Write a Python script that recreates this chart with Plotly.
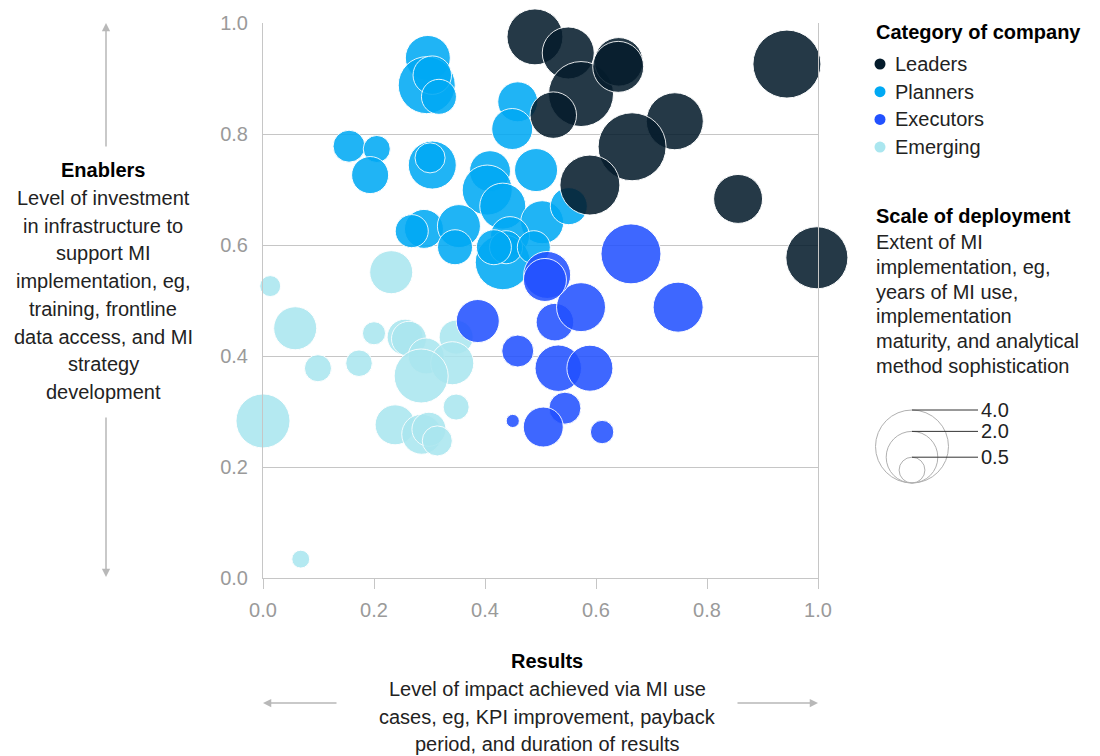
import plotly.graph_objects as go

# ---- data: (results, enablers, scale of deployment) per company ----
leaders_x = [0.490, 0.550, 0.573, 0.641, 0.640, 0.523, 0.742, 0.665, 0.589, 0.856, 0.944, 0.998]
leaders_y = [0.975, 0.946, 0.872, 0.930, 0.921, 0.834, 0.823, 0.777, 0.708, 0.683, 0.926, 0.577]
leaders_s = [2.35, 2.03, 3.17, 1.77, 1.95, 1.62, 2.44, 3.47, 2.70, 1.80, 3.47, 2.89]

planners_x = [0.297, 0.295, 0.305, 0.317, 0.155, 0.205, 0.193, 0.305, 0.301, 0.459, 0.449, 0.409, 0.492,
              0.404, 0.432, 0.503, 0.551, 0.290, 0.268, 0.353, 0.346, 0.445, 0.432, 0.438, 0.416, 0.488]
planners_y = [0.937, 0.888, 0.906, 0.867, 0.778, 0.773, 0.726, 0.744, 0.757, 0.858, 0.809, 0.733, 0.735,
              0.699, 0.670, 0.641, 0.670, 0.629, 0.625, 0.634, 0.596, 0.616, 0.569, 0.596, 0.596, 0.596]
planners_s = [1.52, 2.44, 1.11, 0.92, 0.77, 0.55, 1.03, 1.73, 0.68, 1.20, 1.26, 1.26, 1.39,
              1.88, 1.59, 1.39, 1.03, 1.14, 0.82, 1.39, 0.92, 1.14, 2.27, 0.82, 0.92, 0.82]

executors_x = [0.387, 0.459, 0.450, 0.526, 0.573, 0.532, 0.589, 0.544, 0.505, 0.611, 0.663, 0.748, 0.512, 0.508]
executors_y = [0.463, 0.409, 0.283, 0.461, 0.488, 0.378, 0.378, 0.306, 0.272, 0.263, 0.584, 0.488, 0.546, 0.537]
executors_s = [1.39, 0.77, 0.13, 1.06, 1.80, 1.62, 1.59, 0.77, 1.20, 0.41, 2.70, 1.88, 1.66, 1.39]

emerging_x = [0.231, 0.013, 0.058, 0.200, 0.256, 0.263, 0.348, 0.294, 0.341, 0.285, 0.099, 0.173,
              0.000, 0.348, 0.238, 0.286, 0.299, 0.314, 0.068]
emerging_y = [0.551, 0.526, 0.450, 0.441, 0.434, 0.431, 0.434, 0.400, 0.387, 0.364, 0.378, 0.387,
              0.283, 0.308, 0.276, 0.259, 0.268, 0.247, 0.034]
emerging_s = [1.39, 0.33, 1.39, 0.40, 0.97, 0.92, 0.87, 0.97, 1.39, 2.19, 0.55, 0.53,
              2.19, 0.51, 1.20, 1.20, 0.87, 0.68, 0.24]

categories = ["Leaders", "Planners", "Executors", "Emerging"]
colors = {"Leaders": "#051c2c", "Planners": "#00a9f4", "Executors": "#2251ff", "Emerging": "#aae6ef"}
size_legend_values = [4.0, 2.0, 0.5]
tick_vals = [0.0, 0.2, 0.4, 0.6, 0.8, 1.0]

# ---- layout geometry (pixels) ----
W, H = 1100, 756
ML, MR, MT, MB = 263, 282, 23, 178
PW = W - ML - MR
PH = H - MT - MB

PX_PER_SQRT_UNIT = 36.5                  # bubble diameter in px for a size value of 1
SIZEREF = 2.0 / PX_PER_SQRT_UNIT ** 2     # plotly area-mode reference


def bubble_diameter(v):
    # same formula plotly uses for sizemode="area"
    return 2 * (v / (2 * SIZEREF)) ** 0.5


def fx(xpix):
    return (xpix - ML) / PW


def fy(ypix):
    return (H - MB - ypix) / PH


FONT = "Liberation Sans, Arial, sans-serif"
TEXT = "#222222"
GRID = "#c6c6c6"
ARROW = "#b8b8b8"

fig = go.Figure()

series = {
    "Emerging": (emerging_x, emerging_y, emerging_s),
    "Planners": (planners_x, planners_y, planners_s),
    "Executors": (executors_x, executors_y, executors_s),
    "Leaders": (leaders_x, leaders_y, leaders_s),
}
for name, (xs, ys, ss) in series.items():
    fig.add_trace(go.Scatter(
        x=xs, y=ys, mode="markers", name=name, showlegend=False, cliponaxis=False,
        marker=dict(size=ss, sizemode="area", sizeref=SIZEREF, color=colors[name],
                    opacity=0.87, line=dict(color="white", width=1)),
        hovertemplate=name + "<br>Results %{x:.2f}<br>Enablers %{y:.2f}<extra></extra>",
    ))

annotations = []
shapes = []


def text(xpix, ypix, s, size=20, bold=False, anchor="left", color=TEXT):
    annotations.append(dict(
        x=fx(xpix), y=fy(ypix), xref="paper", yref="paper", text=("<b>%s</b>" % s) if bold else s,
        showarrow=False, xanchor=anchor, yanchor="middle",
        font=dict(family=FONT, size=size, color="#000000" if bold else color),
    ))


def arrow(x_head, y_head, x_tail, y_tail):
    annotations.append(dict(
        x=fx(x_head), y=fy(y_head), xref="paper", yref="paper", text="",
        showarrow=True, ax=x_tail - x_head, ay=y_tail - y_head,
        arrowhead=2, arrowsize=1.1, arrowwidth=1.5, arrowcolor=ARROW, standoff=0, startstandoff=0,
    ))


# ---- category legend ----
text(874, 32, "Category of company", bold=True)
for i, name in enumerate(categories):
    yc = 64 + i * 27.7
    r = 5.5
    shapes.append(dict(type="circle", xref="paper", yref="paper",
                       x0=fx(880 - r), x1=fx(880 + r), y0=fy(yc + r), y1=fy(yc - r),
                       fillcolor=colors[name], line=dict(width=0)))
    text(893, yc, name)

# ---- size legend ----
text(874, 216, "Scale of deployment", bold=True)
scale_lines = ["Extent of MI", "implementation, eg,", "years of MI use,", "implementation",
               "maturity, and analytical", "method sophistication"]
for i, s in enumerate(scale_lines):
    text(874, 242 + i * 24.8, s)

cx, bottom = 912, 483
for v in size_legend_values:
    d = bubble_diameter(v)
    shapes.append(dict(type="circle", xref="paper", yref="paper",
                       x0=fx(cx - d / 2), x1=fx(cx + d / 2), y0=fy(bottom), y1=fy(bottom - d),
                       line=dict(color="#b0b0b0", width=1)))
    shapes.append(dict(type="line", xref="paper", yref="paper",
                       x0=fx(cx), x1=fx(978), y0=fy(bottom - d), y1=fy(bottom - d),
                       line=dict(color="#333333", width=1)))
    text(979, bottom - d, "%.1f" % v)

# ---- y-axis description ----
text(103, 170, "Enablers", bold=True, anchor="center")
enabler_lines = ["Level of investment", "in infrastructure to", "support MI", "implementation, eg,",
                 "training, frontline", "data access, and MI", "strategy", "development"]
for i, s in enumerate(enabler_lines):
    text(103, 198 + i * 27.7, s, anchor="center")
arrow(106, 23, 106, 148)
arrow(106, 577, 106, 416)

# ---- x-axis description ----
text(547, 661, "Results", bold=True, anchor="center")
result_lines = ["Level of impact achieved via MI use", "cases, eg, KPI improvement, payback",
                "period, and duration of results"]
for i, s in enumerate(result_lines):
    text(547, 689 + i * 27.6, s, anchor="center")
arrow(263, 703, 338, 703)
arrow(818, 703, 736, 703)

fig.update_layout(
    width=W, height=H,
    margin=dict(l=ML, r=MR, t=MT, b=MB, pad=0),
    paper_bgcolor="white", plot_bgcolor="white",
    showlegend=False,
    font=dict(family=FONT, color=TEXT),
    annotations=annotations,
    shapes=shapes,
    xaxis=dict(range=[0, 1], tickvals=tick_vals, tickformat=".1f", showgrid=False, zeroline=False,
               showline=True, linecolor=GRID, linewidth=1, ticks="outside", ticklen=10,
               tickcolor=GRID, tickwidth=1, ticklabelstandoff=4,
               tickfont=dict(family=FONT, size=20, color="#9a9a9a")),
    yaxis=dict(range=[0, 1], tickvals=tick_vals, tickformat=".1f", showgrid=True, gridcolor=GRID,
               gridwidth=1, zeroline=False, showline=True, mirror=True, linecolor=GRID, linewidth=1,
               ticks="", ticklabelstandoff=10,
               tickfont=dict(family=FONT, size=20, color="#9a9a9a")),
)

fig.write_html("out.html")
